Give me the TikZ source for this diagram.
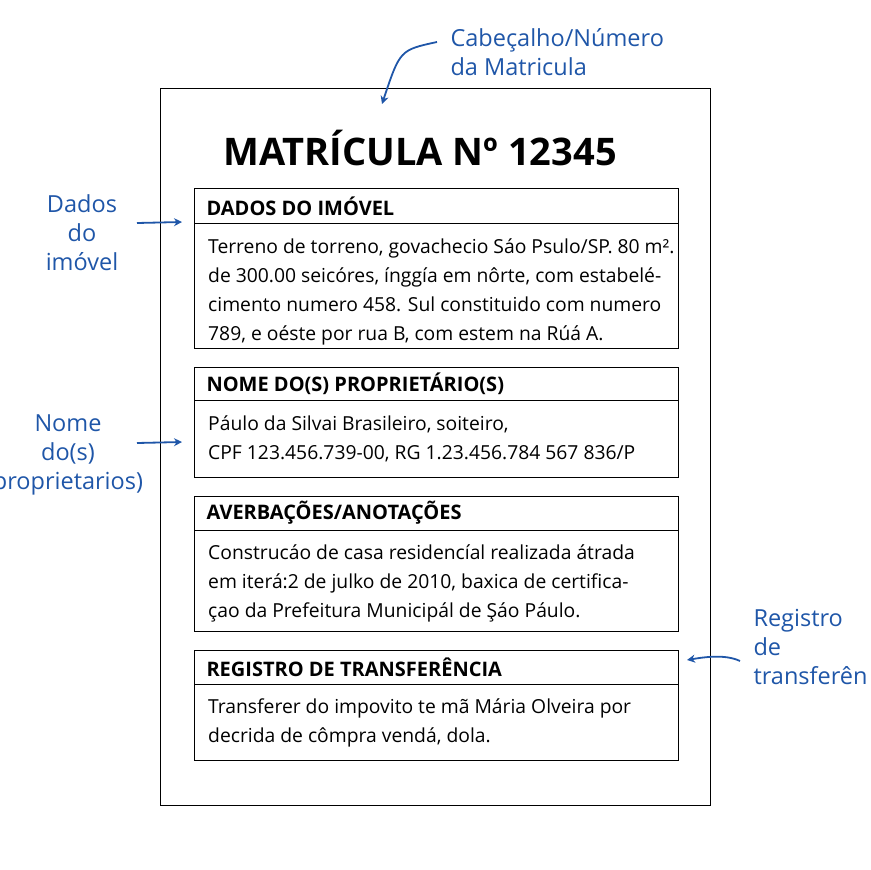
\documentclass[tikz,border=0pt]{standalone}
\usepackage{fontspec}
\setmainfont{Open Sans}
\usetikzlibrary{arrows.meta}
\definecolor{ann}{HTML}{1F56A8}
\begin{document}
\begin{tikzpicture}[x=1pt,y=-1pt,
  box/.style={draw,line width=1pt},
  hd/.style={anchor=west,font=\fontsize{20}{22}\selectfont\bfseries},
  bd/.style={anchor=north west,align=left,inner sep=0pt,font=\fontsize{19.3}{29}\selectfont},
  an/.style={text=ann,font=\fontsize{23.5}{29}\selectfont,align=center},
  ar/.style={ann,line width=1.8pt,-{Stealth[length=8pt,width=8pt]}}]
\useasboundingbox (0,0) rectangle (870,870);
\draw[line width=1pt] (160,88) rectangle (710,805);
\node (title) at (420,148) {\fontsize{38}{40}\selectfont\bfseries MATRÍCULA Nº 12345};
% section 1
\draw[box] (194,188) rectangle (678,348); \draw[box] (194,223) -- (678,223);
\node[hd] (h1) at (203,206) {DADOS DO IMÓVEL};
\node[bd] (b1) at (208,239) {Terreno de torreno, govachecio Sáo Psulo/SP. 80 m².\\de 300.00 seicóres, ínggía em nôrte, com estabelé-\\cimento numero 458. Sul constituido com numero\\789, e oéste por rua B, com estem na Rúá A.};
% section 2
\draw[box] (194,367) rectangle (678,477); \draw[box] (194,400) -- (678,400);
\node[hd] (h2) at (203,384) {NOME DO(S) PROPRIETÁRIO(S)};
\node[bd] (b2) at (208,416) {Páulo da Silvai Brasileiro, soiteiro,\\CPF 123.456.739-00, RG 1.23.456.784 567 836/P};
% section 3
\draw[box] (194,496) rectangle (678,631); \draw[box] (194,530) -- (678,530);
\node[hd] (h3) at (203,513) {AVERBAÇÕES/ANOTAÇÕES};
\node[bd] (b3) at (208,545) {Construcáo de casa residencíal realizada átrada\\em iterá:2 de julko de 2010, baxica de certifica-\\çao da Prefeitura Municipál de Şáo Páulo.};
% section 4
\draw[box] (194,650) rectangle (678,760); \draw[box] (194,684) -- (678,684);
\node[hd] (h4) at (203,667) {REGISTRO DE TRANSFERÊNCIA};
\node[bd] (b4) at (208,699) {Transferer do impovito te mã Mária Olveira por\\decrida de cômpra vendá, dola.};
% annotations
\node[an,anchor=west,align=left] (a1) at (447,52) {Cabeçalho/Número\\da Matricula};
\node[an] (a2) at (82,233) {Dados\\do\\imóvel};
\node[an] (a3) at (68,455) {Nome\\do(s)\\proprietarios)};
\node[an,anchor=west,align=left] (a4) at (750,647) {Registro\\de\\transferên};
\coordinate (t1) at (382,104); \coordinate (t2) at (182,222);
\coordinate (t3) at (182,442); \coordinate (t4) at (687,660);
\draw[ar] (a1.west) ++(-10,-10) .. controls (400,50) .. (t1);
\draw[ar] (137,223) -- (t2);
\draw[ar] (137,443) -- (t3);
\draw[ar] (740,661) .. controls (725,654) and (705,657) .. (t4);
\end{tikzpicture}
\end{document}
